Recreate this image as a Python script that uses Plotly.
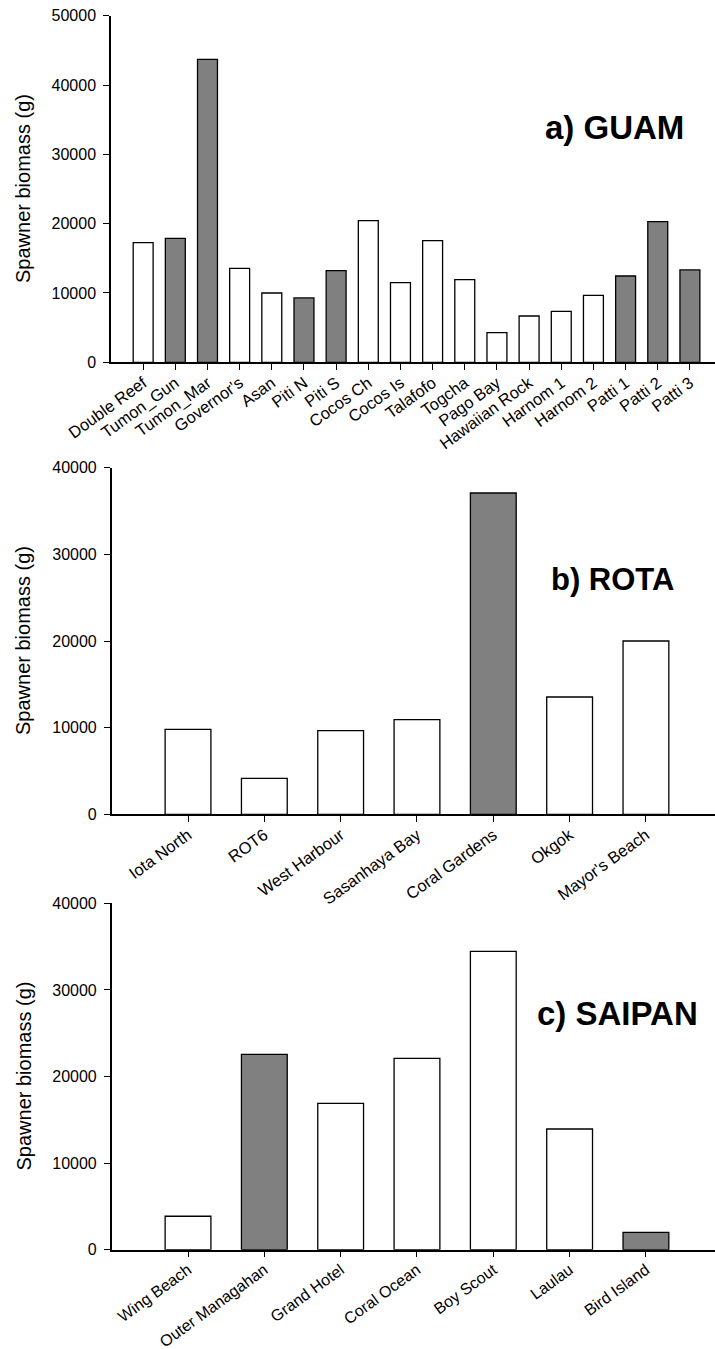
import plotly.graph_objects as go

# ---------------- data ----------------
guam_sites = ["Double Reef", "Tumon_Gun", "Tumon_Mar", "Governor's", "Asan", "Piti N",
              "Piti S", "Cocos Ch", "Cocos Is", "Talafofo", "Togcha", "Pago Bay",
              "Hawaiian Rock", "Harnom 1", "Harnom 2", "Patti 1", "Patti 2", "Patti 3"]
guam_biomass = [17250, 17890, 43710, 13560, 10000, 9280, 13220, 20430, 11490, 17540,
                11920, 4270, 6680, 7350, 9660, 12450, 20290, 13320]
guam_protected = [0, 1, 1, 0, 0, 1, 1, 0, 0, 0, 0, 0, 0, 0, 0, 1, 1, 1]

rota_sites = ["Iota North", "ROT6", "West Harbour", "Sasanhaya Bay", "Coral Gardens",
              "Okgok", "Mayor's Beach"]
rota_biomass = [9810, 4150, 9650, 10920, 37080, 13540, 20000]
rota_protected = [0, 0, 0, 0, 1, 0, 0]

saipan_sites = ["Wing Beach", "Outer Managahan", "Grand Hotel", "Coral Ocean",
                "Boy Scout", "Laulau", "Bird Island"]
saipan_biomass = [3860, 22560, 16900, 22100, 34460, 13940, 2000]
saipan_protected = [0, 1, 0, 0, 0, 0, 1]

panel_titles = ["a) GUAM", "b) ROTA", "c) SAIPAN"]
y_title = "Spawner biomass (g)"

# ---------------- layout geometry (pixels) ----------------
W, H = 715, 1349
FONT = "Liberation Sans, Arial, sans-serif"


def fx(px):
    return px / W


def fy(py):
    return 1 - py / H


panels = [
    dict(sites=guam_sites, vals=guam_biomass, prot=guam_protected, ymax=50000,
         left=111, top=15.7, bottom=362.3, xr=[-1, 17.78], bw=0.62, xfont=16.5,
         title_xy=(543, 127), title_size=33),
    dict(sites=rota_sites, vals=rota_biomass, prot=rota_protected, ymax=40000,
         left=111.7, top=467.7, bottom=814.3, xr=[-1, 6.905], bw=0.6, xfont=16.5,
         title_xy=(549, 579), title_size=31),
    dict(sites=saipan_sites, vals=saipan_biomass, prot=saipan_protected, ymax=40000,
         left=111.7, top=903.3, bottom=1249.7, xr=[-1, 6.905], bw=0.6, xfont=16,
         title_xy=(535, 1013), title_size=33),
]

fig = go.Figure()
annotations = []
layout_axes = {}

for i, p in enumerate(panels):
    n = i + 1
    xa = "x" if n == 1 else f"x{n}"
    ya = "y" if n == 1 else f"y{n}"
    colors = ["#808080" if g else "#ffffff" for g in p["prot"]]
    fig.add_trace(go.Bar(
        x=list(range(len(p["sites"]))), y=p["vals"], width=p["bw"],
        marker=dict(color=colors, line=dict(color="#000000", width=1.3)),
        xaxis=xa, yaxis=ya, showlegend=False,
    ))
    xkey = "xaxis" if n == 1 else f"xaxis{n}"
    ykey = "yaxis" if n == 1 else f"yaxis{n}"
    layout_axes[xkey] = dict(
        domain=[fx(p["left"]), 1.0], anchor=ya, range=p["xr"], automargin=False,
        tickmode="array", tickvals=list(range(len(p["sites"]))), ticktext=p["sites"],
        tickangle=-36, ticks="outside", ticklen=6, tickwidth=1.2, tickcolor="#000",
        showline=True, linecolor="#000", linewidth=1.5, showgrid=False, zeroline=False,
        tickfont=dict(family=FONT, size=p["xfont"], color="#000"),
        ticklabelstandoff=-3,
    )
    layout_axes[ykey] = dict(
        domain=[fy(p["bottom"]), fy(p["top"])], anchor=xa, range=[0, p["ymax"]],
        automargin=False,
        tickmode="linear", tick0=0, dtick=10000, tickformat="d",
        ticks="outside", ticklen=6, tickwidth=1.2, tickcolor="#000",
        showline=True, linecolor="#000", linewidth=1.5, showgrid=False, zeroline=False,
        tickfont=dict(family=FONT, size=16, color="#000"),
        ticklabelstandoff=4,
    )
    annotations.append(dict(
        text=f"<b>{panel_titles[i]}</b>", xref="paper", yref="paper",
        x=fx(p["title_xy"][0]), y=fy(p["title_xy"][1]), xanchor="left", yanchor="middle",
        showarrow=False, font=dict(family=FONT, size=p["title_size"], color="#000"),
    ))
    annotations.append(dict(
        text=y_title, xref="paper", yref="paper", textangle=-90,
        x=fx(23), y=fy((p["top"] + p["bottom"]) / 2), xanchor="center", yanchor="middle",
        showarrow=False, font=dict(family=FONT, size=20, color="#000"),
    ))

fig.update_layout(
    template="none",
    width=W, height=H, margin=dict(l=0, r=0, t=0, b=0, autoexpand=False),
    paper_bgcolor="#ffffff", plot_bgcolor="#ffffff",
    annotations=annotations, bargap=0.4, **layout_axes,
)

fig.write_html("out.html")
